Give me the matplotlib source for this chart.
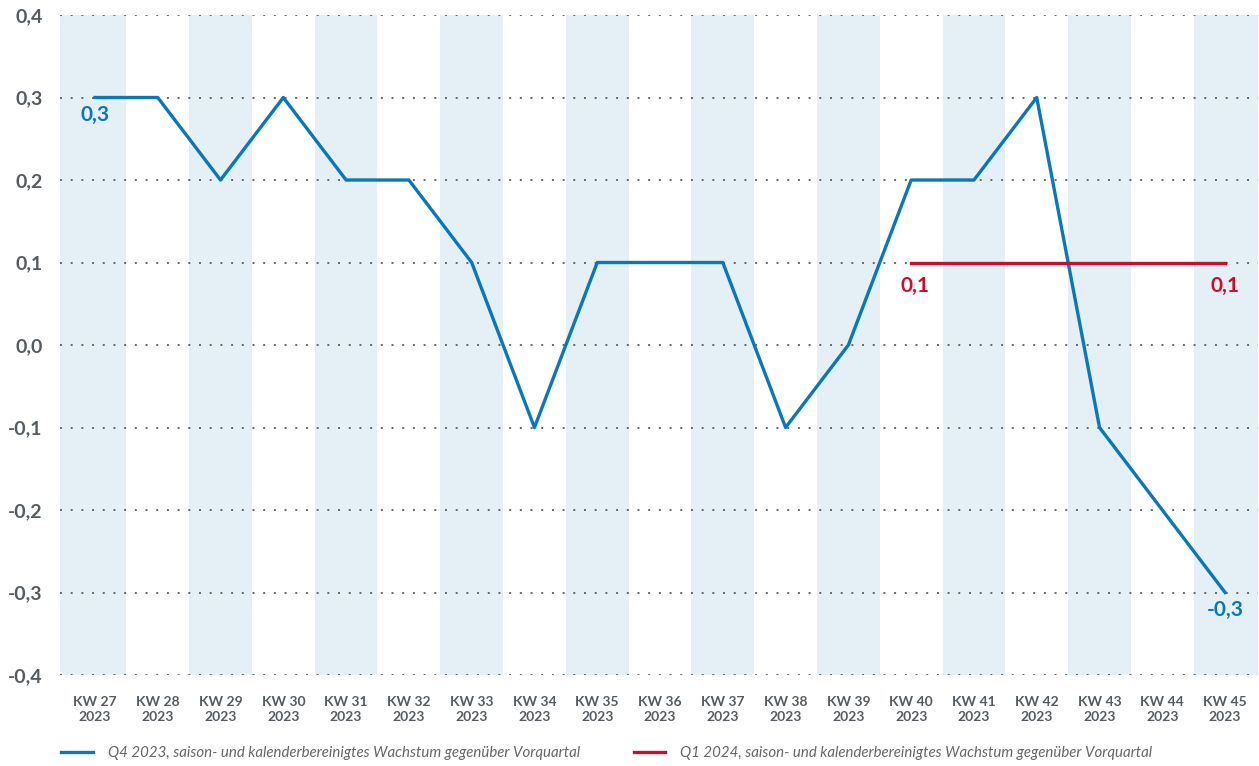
import matplotlib.pyplot as plt
from matplotlib.ticker import FuncFormatter

# --- data ---
weeks = ["KW 27", "KW 28", "KW 29", "KW 30", "KW 31", "KW 32", "KW 33", "KW 34", "KW 35",
         "KW 36", "KW 37", "KW 38", "KW 39", "KW 40", "KW 41", "KW 42", "KW 43", "KW 44", "KW 45"]
year = "2023"
q4_values = [0.3, 0.3, 0.2, 0.3, 0.2, 0.2, 0.1, -0.1, 0.1, 0.1, 0.1, -0.1, 0.0, 0.2, 0.2, 0.3, -0.1, -0.2, -0.3]
q1_start = 13   # KW 40
q1_values = [0.1, 0.1, 0.1, 0.1, 0.1, 0.1]
y_ticks = [-0.4, -0.3, -0.2, -0.1, 0.0, 0.1, 0.2, 0.3, 0.4]

q4_label = "Q4 2023, saison- und kalenderbereinigtes Wachstum gegenüber Vorquartal"
q1_label = "Q1 2024, saison- und kalenderbereinigtes Wachstum gegenüber Vorquartal"

BLUE = "#0a78b6"
RED = "#c8102e"
SHADE = "#e4eff6"
GREY = "#555c61"

plt.rcParams['font.family'] = ['Lato', 'DejaVu Sans']

fig = plt.figure(figsize=(12.59, 7.66), dpi=100)
ax = fig.add_axes([0.048, 0.1188, 0.951, 0.8616])

x = list(range(len(weeks)))
x_lo, x_hi = -0.55, 18.52

# alternating background bands (outer bands run to the plot edge)
for i in x[::2]:
    left = x_lo if i == 0 else i - 0.5
    right = x_hi if i == x[-1] else i + 0.5
    ax.axvspan(left, right, color=SHADE, lw=0, zorder=0)

# dotted grid
for yv in y_ticks:
    ax.axhline(yv, color="#666666", lw=1.4, ls=(0, (1, 4.5)), zorder=1)

line_q4, = ax.plot(x, q4_values, color=BLUE, lw=2.4, zorder=3, label=q4_label)
x_q1 = x[q1_start:q1_start + len(q1_values)]
line_q1, = ax.plot(x_q1, q1_values, color=RED, lw=2.4, zorder=3, label=q1_label)

def fmt(v):
    return f"{v:.1f}".replace(".", ",")

# value labels
lab_kw = dict(ha="center", va="top", fontsize=15, fontweight="bold")
ax.text(x[0], q4_values[0] - 0.009, fmt(q4_values[0]), color=BLUE, **lab_kw)
ax.text(x[-1], q4_values[-1] - 0.009, fmt(q4_values[-1]), color=BLUE, **lab_kw)
ax.text(x_q1[0] + 0.06, q1_values[0] - 0.016, fmt(q1_values[0]), color=RED, **lab_kw)
ax.text(x_q1[-1], q1_values[-1] - 0.016, fmt(q1_values[-1]), color=RED, **lab_kw)

ax.set_xlim(x_lo, x_hi)
ax.set_ylim(-0.4, 0.4)
ax.set_xticks(x)
ax.set_xticklabels([f"{w}\n{year}" for w in weeks], fontsize=10, fontweight="bold",
                   color=GREY, linespacing=1.3)
ax.set_yticks(y_ticks)
ax.yaxis.set_major_formatter(FuncFormatter(lambda v, p: fmt(v) if abs(v) > 1e-9 else "0,0"))
for t in ax.get_yticklabels():
    t.set_fontsize(14)
    t.set_fontweight("bold")
    t.set_color(GREY)
ax.tick_params(axis="both", length=0)
ax.tick_params(axis="x", pad=15)
ax.tick_params(axis="y", pad=13)
for s in ax.spines.values():
    s.set_visible(False)

leg = fig.legend(handles=[line_q4, line_q1], loc="lower left", bbox_to_anchor=(0.038, -0.01),
                 ncol=2, frameon=False, handlelength=2.1, columnspacing=3.6, handletextpad=1.0,
                 prop={"family": ["Lato", "DejaVu Sans"], "style": "italic", "size": 10.8})
for t in leg.get_texts():
    t.set_color("#666666")

fig.savefig("out.png", dpi=100)
